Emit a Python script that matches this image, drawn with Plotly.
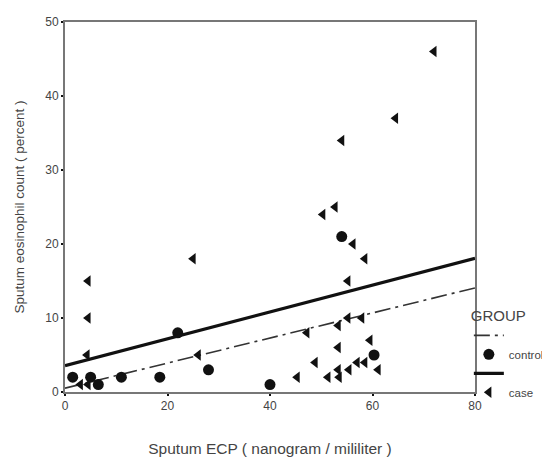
import numpy as np
import plotly.graph_objects as go

# Control group (circles)
control_x = [1.5, 5, 6.5, 11, 18.5, 22, 28, 40, 54, 60.3]
control_y = [2, 2, 1, 2, 2, 8, 3, 1, 21, 5]

# Case group (left triangles)
case_x = [72, 64.5, 54, 52.7, 50.3, 56.2, 58.5, 55.2, 25, 4.5, 4.5, 4.3, 26, 3, 4.5,
          55.2, 57.9, 53.3, 47.2, 53.3, 59.5, 48.8, 57, 58.5, 53.3, 55.4, 61.1, 45.3, 51.3, 53.5]
case_y = [46, 37, 34, 25, 24, 20, 18, 15, 18, 15, 10, 5, 5, 1, 1,
          10, 10, 9, 8, 6, 7, 4, 4, 4, 3, 3, 3, 2, 2, 2]

x_ticks = [0, 20, 40, 60, 80]
y_ticks = [0, 10, 20, 30, 40, 50]

# linear fits computed from the data
cs, ci = np.polyfit(control_x, control_y, 1)
ks, ki = np.polyfit(case_x, case_y, 1)
fx = np.array([0, 80])

fig = go.Figure()
fig.add_trace(go.Scatter(x=fx, y=ci + cs * fx, mode="lines", name=" ",
                         line=dict(color="#333", width=1.6, dash="16px,5px,3px,5px"),
                         legendrank=1))
fig.add_trace(go.Scatter(x=control_x, y=control_y, mode="markers", name="control",
                         marker=dict(symbol="circle", size=11, color="#111"),
                         legendrank=2))
fig.add_trace(go.Scatter(x=fx, y=ki + ks * fx, mode="lines", name="  ",
                         line=dict(color="#111", width=3.2), legendrank=3))
fig.add_trace(go.Scatter(x=case_x, y=case_y, mode="markers", name="case",
                         marker=dict(symbol="triangle-left", size=10, color="#111"),
                         legendrank=4))

axis_common = dict(showgrid=False, zeroline=False, showline=True, linecolor="#777",
                   linewidth=2, mirror=True, ticks="outside", ticklen=2, tickwidth=2,
                   tickcolor="#111", tickfont=dict(size=12, color="#444"),
                   automargin=False)

fig.update_xaxes(range=[0, 80], tickvals=x_ticks, **axis_common,
                 title=dict(text="Sputum ECP ( nanogram / mililiter )",
                            font=dict(size=15.5, color="#444"), standoff=36))
fig.update_yaxes(range=[0, 50], tickvals=y_ticks, **axis_common,
                 title=dict(text="Sputum eosinophil count ( percent )",
                            font=dict(size=13.5, color="#444"), standoff=18))

# page body has an 8px margin, so the figure is sized to fit inside the window
fig.update_layout(
    width=542, height=449,
    margin=dict(l=57, r=75, t=14, b=65, autoexpand=False),
    paper_bgcolor="white", plot_bgcolor="white",
    font=dict(family="Liberation Sans, Arial, sans-serif", color="#444"),
    legend=dict(x=0.985, y=0.245, xanchor="left", yanchor="top",
                title=dict(text="GROUP", font=dict(size=15, color="#444")),
                font=dict(size=11.5, color="#444"), itemwidth=30,
                tracegroupgap=0, bgcolor="rgba(0,0,0,0)"),
)

fig.write_html("out.html")
